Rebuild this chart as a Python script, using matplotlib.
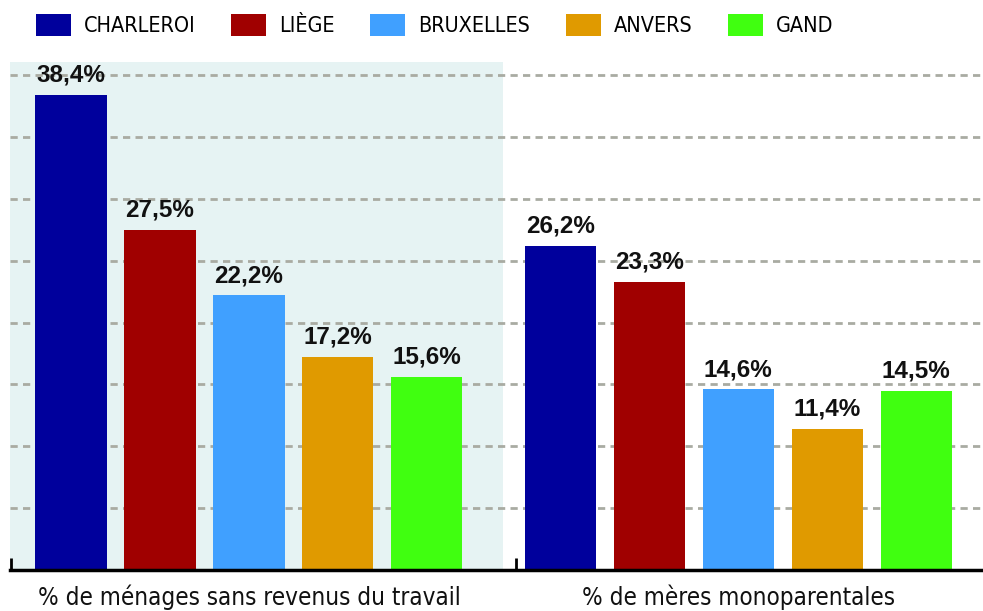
import matplotlib
matplotlib.use("Agg")
import matplotlib.pyplot as plt
from matplotlib.patches import Patch
import numpy as np

# ---- data ----
cities = ["CHARLEROI", "LIÈGE", "BRUXELLES", "ANVERS", "GAND"]
groups = ["% de ménages sans revenus du travail", "% de mères monoparentales"]
menages_sans_revenus = [38.4, 27.5, 22.2, 17.2, 15.6]
meres_monoparentales = [26.2, 23.3, 14.6, 11.4, 14.5]
colors = ["#00009C", "#A00000", "#40A0FF", "#E09A00", "#40FF10"]

series = [menages_sans_revenus, meres_monoparentales]

BFONT = ["Liberation Sans", "DejaVu Sans"]

fig = plt.figure(figsize=(9.83, 6.11), dpi=100)
ax = fig.add_axes([10 / 983, 41 / 611, 973 / 983, 508 / 611])

group_offset = 5.5
bar_w = 0.8
for g, vals in enumerate(series):
    x = np.arange(len(cities)) + g * group_offset
    bars = ax.bar(x, vals, width=bar_w, color=colors, zorder=3)
    ax.bar_label(bars, labels=[f"{v:.1f}%".replace(".", ",") for v in vals],
                 padding=6, fontsize=17.5, fontweight="bold", family=BFONT,
                 color="#111111", zorder=4)

ax.set_xlim(-0.685, 10.25)
ax.set_ylim(0, 41.07)

# shaded panel behind first group
ax.axvspan(-0.685, 4.85, color="#E6F3F3", zorder=0, lw=0)

# dashed grid
ax.set_yticks(np.arange(5, 41, 5))
ax.yaxis.grid(True, linestyle=(0, (2.6, 1.9)), color="#A9ABA2", linewidth=2, zorder=1)
ax.tick_params(axis="y", left=False, labelleft=False)

# x axis: bottom spine + two ticks
for s in ["top", "right", "left"]:
    ax.spines[s].set_visible(False)
ax.spines["bottom"].set_linewidth(2.5)
ax.spines["bottom"].set_zorder(5)
ax.set_xticks([-0.67, 5.0])
ax.tick_params(axis="x", direction="in", length=9, width=2, labelbottom=False)

# group labels
for g, name in enumerate(groups):
    ax.text(2 + g * group_offset, -0.054, name, transform=ax.get_xaxis_transform(),
            ha="center", va="center", fontsize=17.4, family="DejaVu Sans",
            fontstretch="condensed", color="#111111")

# legend
handles = [Patch(facecolor=c, edgecolor="none") for c in colors]
fig.legend(handles, cities, loc="center left", bbox_to_anchor=(36 / 983, 1 - 25 / 611),
           ncol=5, frameon=False, borderpad=0, borderaxespad=0,
           handlelength=1.63, handleheight=1.2, handletextpad=0.6,
           columnspacing=1.65, prop={"family": "DejaVu Sans", "stretch": "condensed", "size": 15.5})

fig.savefig("out.png", dpi=100)
